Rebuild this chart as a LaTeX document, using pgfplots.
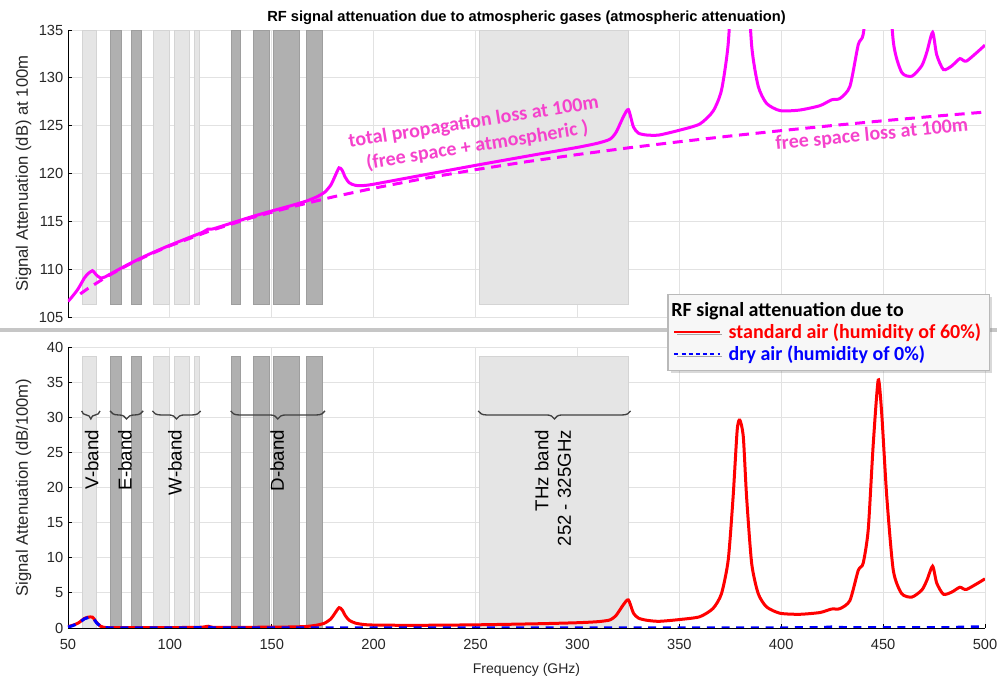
\documentclass[border=0pt]{standalone}
\usepackage{fontspec}
\setmainfont{Liberation Sans}
\newfontfamily\calibri{Carlito}
\usepackage{pgfplots}
\usepackage{pgfplotstable}
\pgfplotsset{compat=1.18}
\usetikzlibrary{decorations.pathreplacing,shadows}

\definecolor{lband}{RGB}{229,229,229}
\definecolor{lbandedge}{RGB}{212,212,212}
\definecolor{dband}{RGB}{176,176,176}
\definecolor{dbandedge}{RGB}{158,158,158}
\definecolor{annot}{RGB}{245,66,204}
\definecolor{magline}{RGB}{255,0,255}
\definecolor{gridc}{RGB}{226,226,226}
\definecolor{tickc}{RGB}{38,38,38}
\definecolor{bracec}{RGB}{64,64,64}

% attenuation per 100 m (standard air, dry air) and total loss at 100 m
\pgfplotstableread{
f     red   dry   total
50    0.20  0.15  106.62
52    0.35  0.30  107.11
55    0.70  0.65  107.95
58    1.35  1.30  109.06
60    1.55  1.50  109.56
62    1.55  1.45  109.84
63    1.20  1.15  109.63
64    0.80  0.75  109.37
66    0.25  0.20  109.08
68    0.08  0.05  109.17
70    0.06  0.03  109.40
80    0.05  0.02  110.55
90    0.05  0.02  111.58
100   0.06  0.02  112.50
110   0.08  0.03  113.35
116   0.12  0.06  113.85
118.8 0.25  0.15  114.19
121   0.10  0.03  114.20
130   0.08  0.02  114.80
140   0.10  0.02  115.47
150   0.12  0.02  116.08
160   0.15  0.02  116.67
167   0.22  0.02  117.12
172   0.40  0.02  117.55
176   0.70  0.02  118.05
179   1.30  0.02  118.80
181   2.10  0.02  119.70
183   2.90  0.02  120.59
184.5 2.60  0.02  120.36
186   1.80  0.02  119.63
188   1.10  0.02  119.03
191   0.70  0.02  118.76
195   0.50  0.02  118.74
200   0.42  0.02  118.88
220   0.38  0.03  119.67
250   0.45  0.03  120.85
280   0.60  0.03  121.99
300   0.75  0.03  122.73
310   0.90  0.03  123.17
316   1.15  0.03  123.59
319   1.80  0.03  124.32
322.5 3.30  0.03  125.91
325   4.00  0.03  126.68
327.5 2.10  0.03  124.85
330   1.40  0.03  124.21
334   1.10  0.03  124.02
340   0.95  0.03  124.02
350   1.20  0.03  124.52
360   1.60  0.03  125.17
366.6 2.80  0.03  126.53
370.7 4.90  0.03  128.72
374   9.70  0.03  133.60
376.4 18.70 0.03  142.66
378.4 28.20 0.03  152.20
379.7 29.60 0.03  153.63
381.4 27.20 0.03  151.27
383   18.70 0.03  142.81
385.5 9.20  0.03  133.36
388.7 4.90  0.03  129.13
392.8 3.00  0.03  127.33
399.4 2.10  0.03  126.57
409   1.95  0.04  126.63
419   2.20  0.05  127.09
424.7 2.70  0.15  127.70
428.8 2.75  0.08  127.84
433.7 3.90  0.05  129.09
437.8 8.20  0.05  133.47
440.2 9.20  0.05  134.52
442.7 14.00 0.05  139.36
445.1 25.90 0.05  151.31
447.6 35.30 0.05  160.76
449.3 30.60 0.05  156.09
451.8 18.70 0.05  144.24
455   8.20  0.05  133.80
459.1 4.90  0.05  130.58
464.1 4.40  0.05  130.17
469   5.40  0.05  131.27
471.5 6.80  0.05  132.71
474.3 8.80  0.05  134.76
476.3 6.40  0.05  132.40
479.6 4.80  0.05  130.86
483.6 5.10  0.06  131.23
487.7 5.80  0.12  132.01
491   5.50  0.15  131.76
500   7.00  0.15  133.42
}\atten

% free space loss at 100 m
\pgfplotstableread{
f    fspl
56   107.41
60   108.01
70   109.34
80   110.50
90   111.53
100  112.44
120  114.03
140  115.37
160  116.52
180  117.55
200  118.46
225  119.49
250  120.40
275  121.23
300  121.98
325  122.68
350  123.32
375  123.92
400  124.48
425  125.01
450  125.51
475  125.98
500  126.42
}\fsl

% frequency bands: light = V/W/THz, dark = E/D
\newcommand{\lightband}[4]{\addplot[fill=lband, draw=lbandedge, line width=0.6pt, forget plot]
  coordinates {(#1,#3) (#1,#4) (#2,#4) (#2,#3)} -- cycle;}
\newcommand{\darkband}[4]{\addplot[fill=dband, draw=dbandedge, line width=0.6pt, forget plot]
  coordinates {(#1,#3) (#1,#4) (#2,#4) (#2,#3)} -- cycle;}
\newcommand{\allbands}[2]{%
  \lightband{57}{64}{#1}{#2}
  \darkband{71}{76}{#1}{#2}
  \darkband{81}{86}{#1}{#2}
  \lightband{92}{100}{#1}{#2}
  \lightband{102}{109.5}{#1}{#2}
  \lightband{111.8}{114.6}{#1}{#2}
  \darkband{130}{134.4}{#1}{#2}
  \darkband{141}{149}{#1}{#2}
  \darkband{151}{163.7}{#1}{#2}
  \darkband{166.8}{175}{#1}{#2}
  \lightband{252}{325}{#1}{#2}}

\pgfplotsset{
  panel/.style={
    scale only axis, width=687.75pt,
    xmin=50, xmax=500, xtick={50,100,...,500},
    axis lines=left, axis line style={-, black, line width=0.6pt},
    tick align=inside, major tick length=3pt,
    tick style={black, line width=0.6pt},
    grid=major, grid style={gridc, line width=0.6pt},
    tick label style={font=\fontsize{11}{13}\selectfont, text=tickc},
    xticklabel style={yshift=-5pt},
    /pgf/number format/assume math mode=true,
    xlabel style={font=\fontsize{10.5}{12}\selectfont, text=tickc, yshift=-3pt},
    ylabel style={font=\fontsize{12.5}{14}\selectfont, text=tickc,
      at={(axis description cs:-0.0485,0.5)}, anchor=center, rotate=0},
  },
}

\begin{document}
\begin{tikzpicture}
\useasboundingbox (-51pt,-36.75pt) rectangle (696.75pt,471pt);

\begin{axis}[panel, at={(0pt,233.25pt)}, height=215.25pt,
  ymin=105, ymax=135, ytick={105,110,...,135},
  xticklabels={}, x axis line style={draw=none}, xtick style={draw=none},
  ylabel={Signal Attenuation (dB) at 100m},
  title={RF signal attenuation due to atmospheric gases (atmospheric attenuation)},
  title style={font=\fontsize{11}{13}\selectfont\bfseries, yshift=-5.5pt}]
  \allbands{106.3}{135}
  \addplot[magline, line width=2.25pt, smooth, tension=0.4] table[x=f, y=total]{\atten};
  \addplot[magline, line width=2.25pt, dash pattern=on 7.5pt off 5pt] table[x=f, y=fspl]{\fsl};
  \node[rotate=9, align=center, text=annot, font=\calibri\bfseries\fontsize{15}{18}\selectfont]
    at (axis cs:250,124.1) {total propagation loss at 100m\\(free space + atmospheric )};
  \node[rotate=5.5, text=annot, font=\calibri\bfseries\fontsize{15}{18}\selectfont]
    at (axis cs:444.5,124.0) {free space loss at 100m};
\end{axis}

\draw[color=gray!45, line width=2.5pt] (-51pt,223.5pt) -- (696.75pt,223.5pt);

\begin{axis}[panel, at={(0pt,0pt)}, height=210.75pt,
  ymin=0, ymax=40, ytick={0,5,...,40},
  xlabel={Frequency (GHz)},
  ylabel={Signal Attenuation (dB/100m)},
  legend style={at={(1.005,1.19)}, anchor=north east,
    font=\calibri\bfseries\fontsize{15}{17}\selectfont,
    draw=gray!55, fill=gray!6, line width=0.8pt,
    drop shadow={shadow xshift=2pt, shadow yshift=-2pt, opacity=0.3},
    inner sep=4pt, row sep=0pt},
  legend cell align=left]
  \allbands{0}{38.7}
  \addplot[red, line width=2.25pt, smooth, tension=0.4, forget plot] table[x=f, y=red]{\atten};
  \addplot[blue, line width=2.25pt, dash pattern=on 6pt off 5pt, forget plot] table[x=f, y=dry]{\atten};

  \addlegendimage{empty legend}
  \addlegendentry{\hspace{-39pt}\textcolor{black}{RF signal attenuation due to}}
  \addlegendimage{legend image code/.code={\draw[red, line width=1.5pt] (0pt,0pt) -- (34pt,0pt);}}
  \addlegendentry{\hspace{4pt}\textcolor{red}{standard air (humidity of 60\%)}\hspace{-3pt}}
  \addlegendimage{legend image code/.code={\draw[blue, line width=1.5pt, dash pattern=on 3pt off 2.4pt] (0pt,0pt) -- (34pt,0pt);}}
  \addlegendentry{\hspace{4pt}\textcolor{blue}{dry air (humidity of 0\%)}}

  % band braces and names
  \begin{scope}[bracec, line width=1pt]
    \draw[decorate, decoration={brace, mirror, amplitude=6pt}] (axis cs:56.7,30.9) -- (axis cs:65.7,30.9);
    \draw[decorate, decoration={brace, mirror, amplitude=6pt}] (axis cs:70.6,30.9) -- (axis cs:86.9,30.9);
    \draw[decorate, decoration={brace, mirror, amplitude=6pt}] (axis cs:91.4,30.9) -- (axis cs:115.1,30.9);
    \draw[decorate, decoration={brace, mirror, amplitude=6pt}] (axis cs:129.8,30.9) -- (axis cs:176.1,30.9);
    \draw[decorate, decoration={brace, mirror, amplitude=6pt}] (axis cs:251.3,30.9) -- (axis cs:326.1,30.9);
  \end{scope}
  \begin{scope}[every node/.style={rotate=90, anchor=east, inner sep=0pt, text=black,
      font=\fontsize{14}{17}\selectfont}]
    \node at (axis cs:61.6,28.2) {V-band};
    \node at (axis cs:78,28.2) {E-band};
    \node at (axis cs:102.5,28.2) {W-band};
    \node at (axis cs:152.7,28.2) {D-band};
    \node[align=right] at (axis cs:288,28.2) {THz band\\252 - 325GHz};
  \end{scope}
\end{axis}
\end{tikzpicture}
\end{document}
